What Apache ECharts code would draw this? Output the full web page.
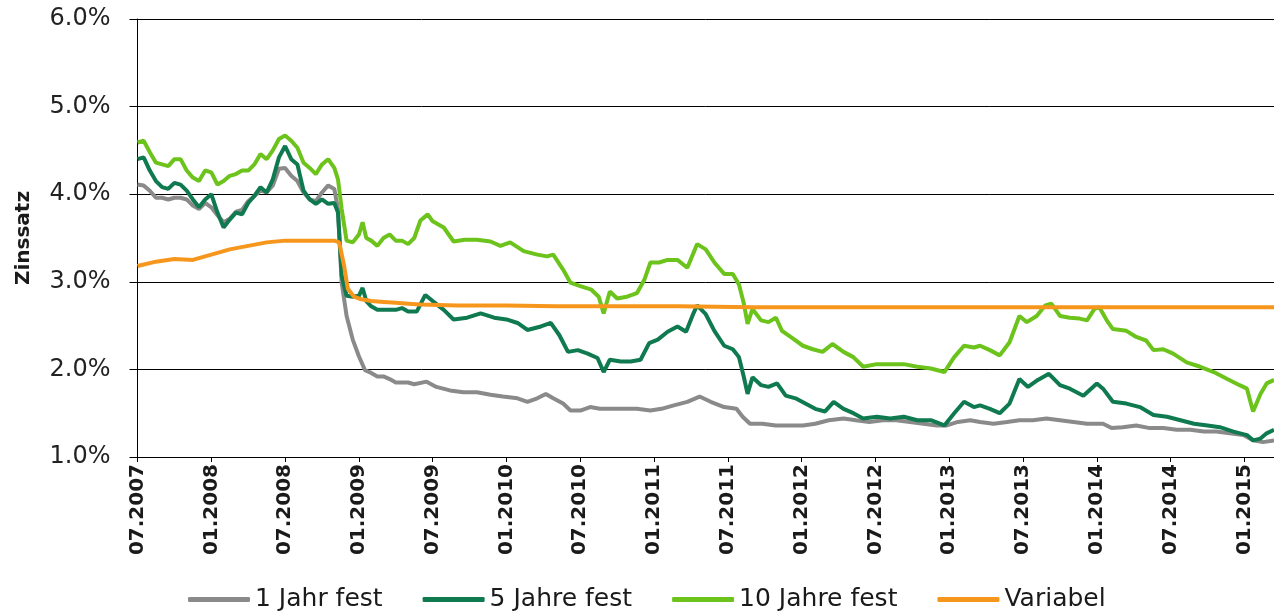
<!DOCTYPE html>
<html>
<head>
<meta charset="utf-8">
<script src="https://cdn.jsdelivr.net/npm/echarts@6/dist/echarts.min.js"></script>
<style>
  html, body { margin: 0; padding: 0; background: #fff; }
  #report_chart { width: 1274px; height: 613px; }
</style>
</head>
<body>
<div id="report_chart"></div>
<script>
// x = months since 07.2007, y = Zinssatz in %
var tickLabels = ['07.2007', '01.2008', '07.2008', '01.2009', '07.2009', '01.2010', '07.2010', '01.2011',
	'07.2011', '01.2012', '07.2012', '01.2013', '07.2013', '01.2014', '07.2014', '01.2015'];

var seriesNames = ['1 Jahr fest', '5 Jahre fest', '10 Jahre fest', 'Variabel'];

var jahr1 = [[0,4.11],[0.5,4.10],[1,4.04],[1.5,3.96],[2,3.96],[2.5,3.94],[3,3.96],[3.5,3.96],[4,3.94],[4.5,3.87],
	[5,3.83],[5.5,3.90],[6,3.85],[6.5,3.76],[7,3.68],[7.5,3.72],[8,3.80],[8.5,3.82],[9,3.92],[9.5,3.98],[10,4.04],
	[10.5,4.02],[11,4.10],[11.5,4.29],[12,4.30],[12.5,4.21],[13,4.15],[13.5,4.02],[14,3.94],[14.5,3.92],[15,4.02],
	[15.5,4.10],[16,4.06],[16.3,3.83],[16.6,2.99],[17,2.61],[17.5,2.34],[18,2.15],[18.5,1.99],[19,1.96],[19.5,1.92],
	[20,1.92],[20.5,1.89],[21,1.85],[21.5,1.85],[22,1.85],[22.5,1.83],[23.5,1.86],[24.3,1.80],[25.4,1.76],[26.5,1.74],
	[27.6,1.74],[28.7,1.71],[29.7,1.69],[30.9,1.67],[31.7,1.63],[32.5,1.67],[33.2,1.72],[33.8,1.67],[34.6,1.61],
	[35.2,1.53],[36.0,1.53],[36.8,1.57],[37.6,1.55],[38.4,1.55],[39.5,1.55],[40.6,1.55],[41.7,1.53],[42.6,1.55],
	[43.6,1.59],[44.7,1.63],[45.7,1.69],[46.6,1.63],[47.7,1.57],[48.7,1.55],[49.2,1.46],[49.8,1.38],[50.8,1.38],
	[51.9,1.36],[53.0,1.36],[54.1,1.36],[55.1,1.38],[56.2,1.42],[57.4,1.44],[58.4,1.42],[59.5,1.40],[60.6,1.42],
	[61.7,1.42],[62.8,1.40],[63.9,1.38],[65.0,1.36],[65.8,1.36],[66.7,1.40],[67.7,1.42],[68.5,1.40],[69.6,1.38],
	[70.7,1.40],[71.7,1.42],[72.8,1.42],[73.9,1.44],[75.0,1.42],[76.1,1.40],[77.2,1.38],[78.5,1.38],[79.2,1.33],
	[80.1,1.34],[81.2,1.36],[82.3,1.33],[83.4,1.33],[84.5,1.31],[85.6,1.31],[86.7,1.29],[87.7,1.29],[88.8,1.27],
	[89.9,1.25],[90.7,1.19],[91.5,1.17],[92.4,1.19]];

var jahre5 = [[0,4.40],[0.5,4.42],[1,4.27],[1.5,4.15],[2,4.08],[2.5,4.06],[3,4.13],[3.5,4.11],[4,4.04],[4.5,3.94],
	[5,3.85],[5.5,3.94],[6,4.00],[6.5,3.79],[7,3.62],[7.5,3.71],[8,3.79],[8.5,3.77],[9,3.90],[9.5,3.98],[10,4.08],
	[10.5,4.02],[11,4.17],[11.5,4.42],[12,4.55],[12.5,4.40],[13,4.34],[13.5,4.04],[14,3.94],[14.5,3.89],[15,3.94],
	[15.5,3.89],[16,3.90],[16.3,3.79],[16.6,3.07],[17,2.84],[17.5,2.83],[18,2.84],[18.3,2.93],[18.6,2.78],[19,2.72],
	[19.5,2.68],[20,2.68],[20.5,2.68],[21,2.68],[21.5,2.70],[22,2.66],[22.7,2.66],[23.4,2.85],[24,2.78],[24.9,2.68],
	[25.7,2.57],[26.8,2.59],[27.9,2.64],[29.0,2.59],[30.0,2.57],[30.9,2.53],[31.7,2.45],[32.8,2.49],[33.6,2.53],
	[34.3,2.39],[35.0,2.20],[35.8,2.22],[36.6,2.18],[37.4,2.13],[37.9,1.97],[38.4,2.11],[39.3,2.09],[40.1,2.09],
	[40.9,2.11],[41.6,2.30],[42.3,2.34],[43.1,2.43],[43.9,2.49],[44.6,2.43],[45.2,2.64],[45.5,2.73],[46.2,2.63],
	[46.9,2.44],[47.7,2.27],[48.4,2.23],[48.9,2.14],[49.3,1.91],[49.6,1.72],[50.0,1.91],[50.7,1.82],[51.3,1.80],
	[52.0,1.84],[52.7,1.70],[53.5,1.67],[54.3,1.61],[55.1,1.55],[55.9,1.52],[56.6,1.63],[57.4,1.55],[58.2,1.50],
	[59.0,1.44],[60.1,1.46],[61.2,1.44],[62.3,1.46],[63.4,1.42],[64.5,1.42],[65.6,1.36],[66.4,1.50],[67.2,1.63],
	[68.0,1.57],[68.5,1.59],[69.3,1.55],[70.1,1.50],[70.9,1.61],[71.7,1.89],[72.4,1.80],[73.2,1.88],[74.1,1.95],
	[75.0,1.82],[75.8,1.78],[76.9,1.70],[78.0,1.84],[78.5,1.78],[79.3,1.63],[80.4,1.61],[81.5,1.57],[82.6,1.48],
	[83.7,1.46],[84.8,1.42],[85.9,1.38],[87.0,1.36],[88.0,1.34],[89.1,1.29],[90.2,1.25],[90.7,1.19],[91.3,1.21],
	[91.8,1.27],[92.4,1.31]];

var jahre10 = [[0,4.59],[0.5,4.61],[1,4.48],[1.5,4.36],[2,4.34],[2.5,4.32],[3,4.40],[3.5,4.40],[4,4.27],[4.5,4.19],
	[5,4.15],[5.5,4.27],[6,4.25],[6.5,4.11],[7,4.15],[7.5,4.21],[8,4.23],[8.5,4.27],[9,4.27],[9.5,4.34],[10,4.46],
	[10.5,4.40],[11,4.50],[11.5,4.63],[12,4.67],[12.5,4.61],[13,4.53],[13.5,4.36],[14,4.30],[14.5,4.23],[15,4.34],
	[15.5,4.40],[16,4.30],[16.3,4.17],[16.6,3.83],[17,3.47],[17.5,3.45],[18,3.54],[18.3,3.68],[18.6,3.50],[19,3.47],
	[19.5,3.41],[20,3.50],[20.5,3.54],[21,3.47],[21.5,3.47],[22,3.43],[22.5,3.50],[23,3.70],[23.6,3.77],[24,3.69],
	[24.9,3.62],[25.7,3.46],[26.6,3.48],[27.6,3.48],[28.7,3.46],[29.5,3.41],[30.3,3.45],[31.4,3.35],[32.5,3.31],
	[33.3,3.29],[33.8,3.31],[34.6,3.14],[35.2,2.99],[36.0,2.95],[36.9,2.91],[37.5,2.83],[37.9,2.64],[38.4,2.89],
	[39.0,2.81],[39.8,2.83],[40.6,2.87],[41.2,3.02],[41.7,3.22],[42.4,3.22],[43.1,3.25],[43.9,3.25],[44.7,3.16],
	[45.5,3.43],[46.2,3.37],[46.9,3.22],[47.7,3.09],[48.4,3.09],[48.9,2.97],[49.3,2.75],[49.6,2.52],[50.0,2.69],
	[50.7,2.56],[51.3,2.54],[51.9,2.59],[52.4,2.44],[53.3,2.35],[54.1,2.27],[54.9,2.23],[55.7,2.20],[56.5,2.29],
	[57.4,2.20],[58.2,2.14],[59.0,2.03],[60.1,2.06],[61.2,2.06],[62.3,2.06],[63.4,2.03],[64.5,2.01],[65.6,1.97],
	[66.4,2.14],[67.2,2.27],[68.0,2.25],[68.5,2.27],[69.3,2.22],[70.1,2.16],[70.9,2.31],[71.7,2.61],[72.3,2.54],
	[73.1,2.61],[73.8,2.73],[74.3,2.75],[75.0,2.61],[75.8,2.59],[76.6,2.58],[77.2,2.56],[77.8,2.69],[78.2,2.71],
	[78.8,2.56],[79.3,2.46],[80.4,2.44],[81.2,2.37],[82.0,2.33],[82.6,2.22],[83.4,2.23],[84.2,2.18],[85.3,2.08],
	[86.4,2.03],[87.5,1.97],[88.6,1.89],[89.6,1.82],[90.2,1.78],[90.7,1.52],[91.3,1.72],[91.8,1.84],[92.4,1.88]];

var variabel = [[0,3.18],[1.5,3.23],[3,3.26],[4.5,3.25],[6,3.31],[7.5,3.37],[9,3.41],[10.5,3.45],[12,3.47],[14,3.47],
	[16,3.47],[16.4,3.45],[16.8,3.18],[17.1,2.92],[17.6,2.83],[18.2,2.80],[19,2.78],[20,2.77],[21,2.76],[22,2.75],
	[23,2.74],[26,2.73],[30,2.73],[34,2.72],[38,2.72],[44,2.72],[50,2.71],[60,2.71],[70,2.71],[80,2.71],[92.4,2.71]];

var seriesColors = ['#8a8a8a', '#0f7a50', '#6cc31c', '#f7961c'];

function initChart() {
	var font = 'DejaVu Sans';
	var allData = [jahr1, jahre5, jahre10, variabel];
	var series = [];
	for (var i = 0; i < allData.length; i++) {
		series.push({
			name : seriesNames[i],
			type : 'line',
			data : allData[i],
			showSymbol : false,
			symbol : 'none',
			animation : false,
			lineStyle : { color : seriesColors[i], width : 4 },
			itemStyle : { color : seriesColors[i] }
		});
	}

	var option = {
		backgroundColor : '#fff',
		animation : false,
		grid : { left : 137.5, right : 0, top : 19, bottom : 156 },
		legend : {
			left : 183,
			top : 582,
			itemGap : 40,
			itemWidth : 62,
			itemHeight : 5,
			icon : 'roundRect',
			data : seriesNames,
			textStyle : { fontFamily : font, fontSize : 25, color : '#1a1a1a' }
		},
		xAxis : {
			type : 'value',
			min : 0,
			max : 92.4,
			interval : 6,
			axisLine : { show : true, lineStyle : { color : '#000', width : 1 } },
			axisTick : { show : true, length : 5, lineStyle : { color : '#000' } },
			splitLine : { show : false },
			axisLabel : {
				rotate : 90,
				margin : 7,
				fontFamily : font,
				fontWeight : 'bold',
				fontSize : 20,
				color : '#1a1a1a',
				showMaxLabel : false,
				formatter : function(v) {
					var k = v / 6;
					if (Math.abs(k - Math.round(k)) > 1e-6) return '';
					return tickLabels[Math.round(k)] || '';
				}
			}
		},
		yAxis : {
			type : 'value',
			min : 1,
			max : 6,
			interval : 1,
			name : 'Zinssatz',
			nameLocation : 'middle',
			nameRotate : 90,
			nameGap : 104,
			nameTextStyle : { fontFamily : font, fontWeight : 'bold', fontSize : 20, color : '#1a1a1a' },
			axisLine : { show : true, lineStyle : { color : '#000', width : 1 } },
			axisTick : { show : true, length : 8, lineStyle : { color : '#000' } },
			splitLine : { show : true, lineStyle : { color : '#000', width : 1 } },
			axisLabel : {
				margin : 27,
				fontFamily : font,
				fontSize : 24,
				color : '#222',
				formatter : function(v) { return v.toFixed(1) + '%'; }
			}
		},
		series : series
	};

	var myChart = echarts.init(document.getElementById('report_chart'));
	myChart.setOption(option);
	window.myChart = myChart;
}
initChart();
</script>
</body>
</html>
